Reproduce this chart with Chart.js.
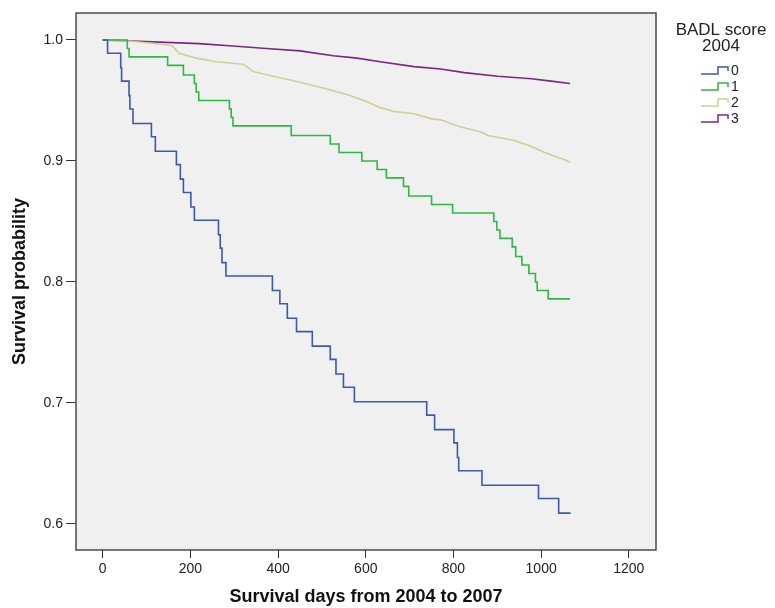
<!DOCTYPE html>
<html>
<head>
<meta charset="utf-8">
<script src="https://cdn.jsdelivr.net/npm/chart.js@4/dist/chart.umd.min.js"></script>
<style>
  html, body { margin: 0; padding: 0; background: #fff; }
  #wrap { width: 775px; height: 608px; }
</style>
</head>
<body>
<div id="wrap"><canvas id="kmChart" width="775" height="608"></canvas></div>
<script>
// BADL score groups (legend)
var groups = ['0', '1', '2', '3'];
var groupColors = ['#3E58AC', '#2EB848', '#D3CE97', '#7C287D'];

// Kaplan-Meier steps: days and survival after each drop
var days0 = [0, 11, 41, 43, 60, 62, 69, 111, 120, 168, 177, 184, 201, 209, 264, 268, 272, 281, 387, 404, 421, 442, 478, 519, 532, 549, 574, 739, 757, 801, 809, 812, 865, 994, 1040, 1067];
var surv0 = [1.0, 0.989, 0.977, 0.966, 0.954, 0.943, 0.931, 0.920, 0.908, 0.897, 0.885, 0.874, 0.862, 0.851, 0.839, 0.828, 0.816, 0.805, 0.793, 0.782, 0.770, 0.759, 0.747, 0.736, 0.724, 0.713, 0.701, 0.690, 0.678, 0.667, 0.655, 0.644, 0.632, 0.621, 0.609, 0.609];

var days1 = [0, 56, 60, 148, 184, 209, 213, 219, 289, 293, 297, 430, 519, 539, 591, 626, 647, 686, 698, 750, 798, 892, 899, 906, 934, 942, 956, 972, 987, 991, 1016, 1066];
var surv1 = [1.0, 0.993, 0.986, 0.979, 0.971, 0.964, 0.957, 0.950, 0.943, 0.936, 0.929, 0.921, 0.914, 0.907, 0.900, 0.893, 0.886, 0.879, 0.871, 0.864, 0.857, 0.850, 0.843, 0.836, 0.829, 0.821, 0.814, 0.807, 0.800, 0.793, 0.786, 0.786];

// groups 2 and 3 have many tiny drops; read as a trace
var days2 = [0, 66, 144, 159, 174, 213, 259, 320, 343, 389, 450, 496, 526, 557, 603, 633, 664, 710, 748, 771, 794, 817, 840, 863, 878, 909, 939, 970, 985, 1008, 1031, 1054, 1066];
var surv2 = [1.0, 0.999, 0.996, 0.995, 0.989, 0.985, 0.982, 0.980, 0.974, 0.970, 0.965, 0.961, 0.958, 0.955, 0.949, 0.944, 0.941, 0.939, 0.935, 0.934, 0.931, 0.928, 0.926, 0.924, 0.921, 0.919, 0.917, 0.913, 0.911, 0.907, 0.904, 0.901, 0.899];

var days3 = [0, 83, 144, 220, 297, 373, 450, 526, 580, 633, 710, 771, 825, 901, 978, 1023, 1066];
var surv3 = [1.0, 0.999, 0.998, 0.997, 0.995, 0.993, 0.991, 0.987, 0.985, 0.982, 0.978, 0.976, 0.973, 0.970, 0.968, 0.966, 0.964];

var xTicks = [0, 200, 400, 600, 800, 1000, 1200];
var yTicks = [0.6, 0.7, 0.8, 0.9, 1.0];

var FONT = '"Liberation Sans", Arial, sans-serif';

function toPoints(xs, ys) {
  var pts = [];
  for (var i = 0; i < xs.length; i++) pts.push({x: xs[i], y: ys[i]});
  return pts;
}

var allDays = [days0, days1, days2, days3];
var allSurv = [surv0, surv1, surv2, surv3];
var datasets = groups.map(function (g, i) {
  return {
    label: g,
    data: toPoints(allDays[i], allSurv[i]),
    borderColor: groupColors[i],
    borderWidth: 1.6,
    stepped: i < 2 ? 'before' : false,
    tension: 0,
    pointRadius: 0,
    fill: false
  };
});

// grey plot panel with frame
var panelPlugin = {
  id: 'panel',
  beforeDatasetsDraw: function (chart) {
    var a = chart.chartArea, ctx = chart.ctx;
    ctx.save();
    ctx.fillStyle = '#F0F0F0';
    ctx.fillRect(a.left, a.top, a.right - a.left, a.bottom - a.top);
    ctx.restore();
  },
  afterDraw: function (chart) {
    var a = chart.chartArea, ctx = chart.ctx;
    ctx.save();
    ctx.strokeStyle = '#4a4a4a';
    ctx.lineWidth = 1.5;
    ctx.strokeRect(a.left, a.top, a.right - a.left, a.bottom - a.top);
    ctx.restore();
  }
};

// SPSS-style legend on the right
var legendPlugin = {
  id: 'spssLegend',
  afterDraw: function (chart) {
    var ctx = chart.ctx;
    ctx.save();
    ctx.fillStyle = '#222';
    ctx.textAlign = 'center';
    ctx.textBaseline = 'middle';
    ctx.font = '17px ' + FONT;
    ctx.fillText('BADL score', 721, 30);
    ctx.fillText('2004', 721, 46);
    ctx.font = '14px ' + FONT;
    ctx.textAlign = 'left';
    groups.forEach(function (g, i) {
      var y = 70 + i * 16;
      ctx.strokeStyle = groupColors[i];
      ctx.lineWidth = 1.5;
      ctx.beginPath();
      ctx.moveTo(701, y + 4);
      ctx.lineTo(718, y + 4);
      ctx.lineTo(718, y - 3);
      ctx.lineTo(728, y - 3);
      ctx.lineTo(728, y + 1);
      ctx.stroke();
      ctx.fillStyle = '#222';
      ctx.fillText(g, 731, y + 1);
    });
    ctx.restore();
  }
};

new Chart(document.getElementById('kmChart'), {
  type: 'line',
  data: { datasets: datasets },
  options: {
    responsive: false,
    animation: false,
    layout: { padding: { left: 0, top: 13, right: 119, bottom: 0 } },
    plugins: {
      legend: { display: false },
      tooltip: { enabled: false }
    },
    scales: {
      x: {
        type: 'linear',
        min: -61,
        max: 1262,
        afterFit: function (s) { s.height = 58; },
        afterBuildTicks: function (s) { s.ticks = xTicks.map(function (v) { return {value: v}; }); },
        ticks: {
          includeBounds: false,
          color: '#222',
          font: { family: FONT, size: 14 },
          padding: 3,
          maxRotation: 0,
          callback: function (v) { return String(v); }
        },
        grid: { display: true, drawOnChartArea: false, drawTicks: true, tickLength: 8, color: '#333' },
        border: { display: false },
        title: {
          display: true,
          text: 'Survival days from 2004 to 2007',
          color: '#111',
          font: { family: FONT, size: 18, weight: 'bold' },
          padding: { top: 0, bottom: 0 }
        }
      },
      y: {
        type: 'linear',
        min: 0.5785,
        max: 1.0223,
        afterFit: function (s) { s.width = 76; },
        afterBuildTicks: function (s) { s.ticks = yTicks.map(function (v) { return {value: v}; }); },
        ticks: {
          includeBounds: false,
          color: '#222',
          font: { family: FONT, size: 14 },
          padding: 3,
          callback: function (v) { return Number(v).toFixed(1); }
        },
        grid: { display: true, drawOnChartArea: false, drawTicks: true, tickLength: 10, color: '#333' },
        border: { display: false },
        title: {
          display: true,
          text: 'Survival probability',
          color: '#111',
          font: { family: FONT, size: 18, weight: 'bold' },
          padding: { top: 9, bottom: 0 }
        }
      }
    }
  },
  plugins: [panelPlugin, legendPlugin]
});
</script>
</body>
</html>
